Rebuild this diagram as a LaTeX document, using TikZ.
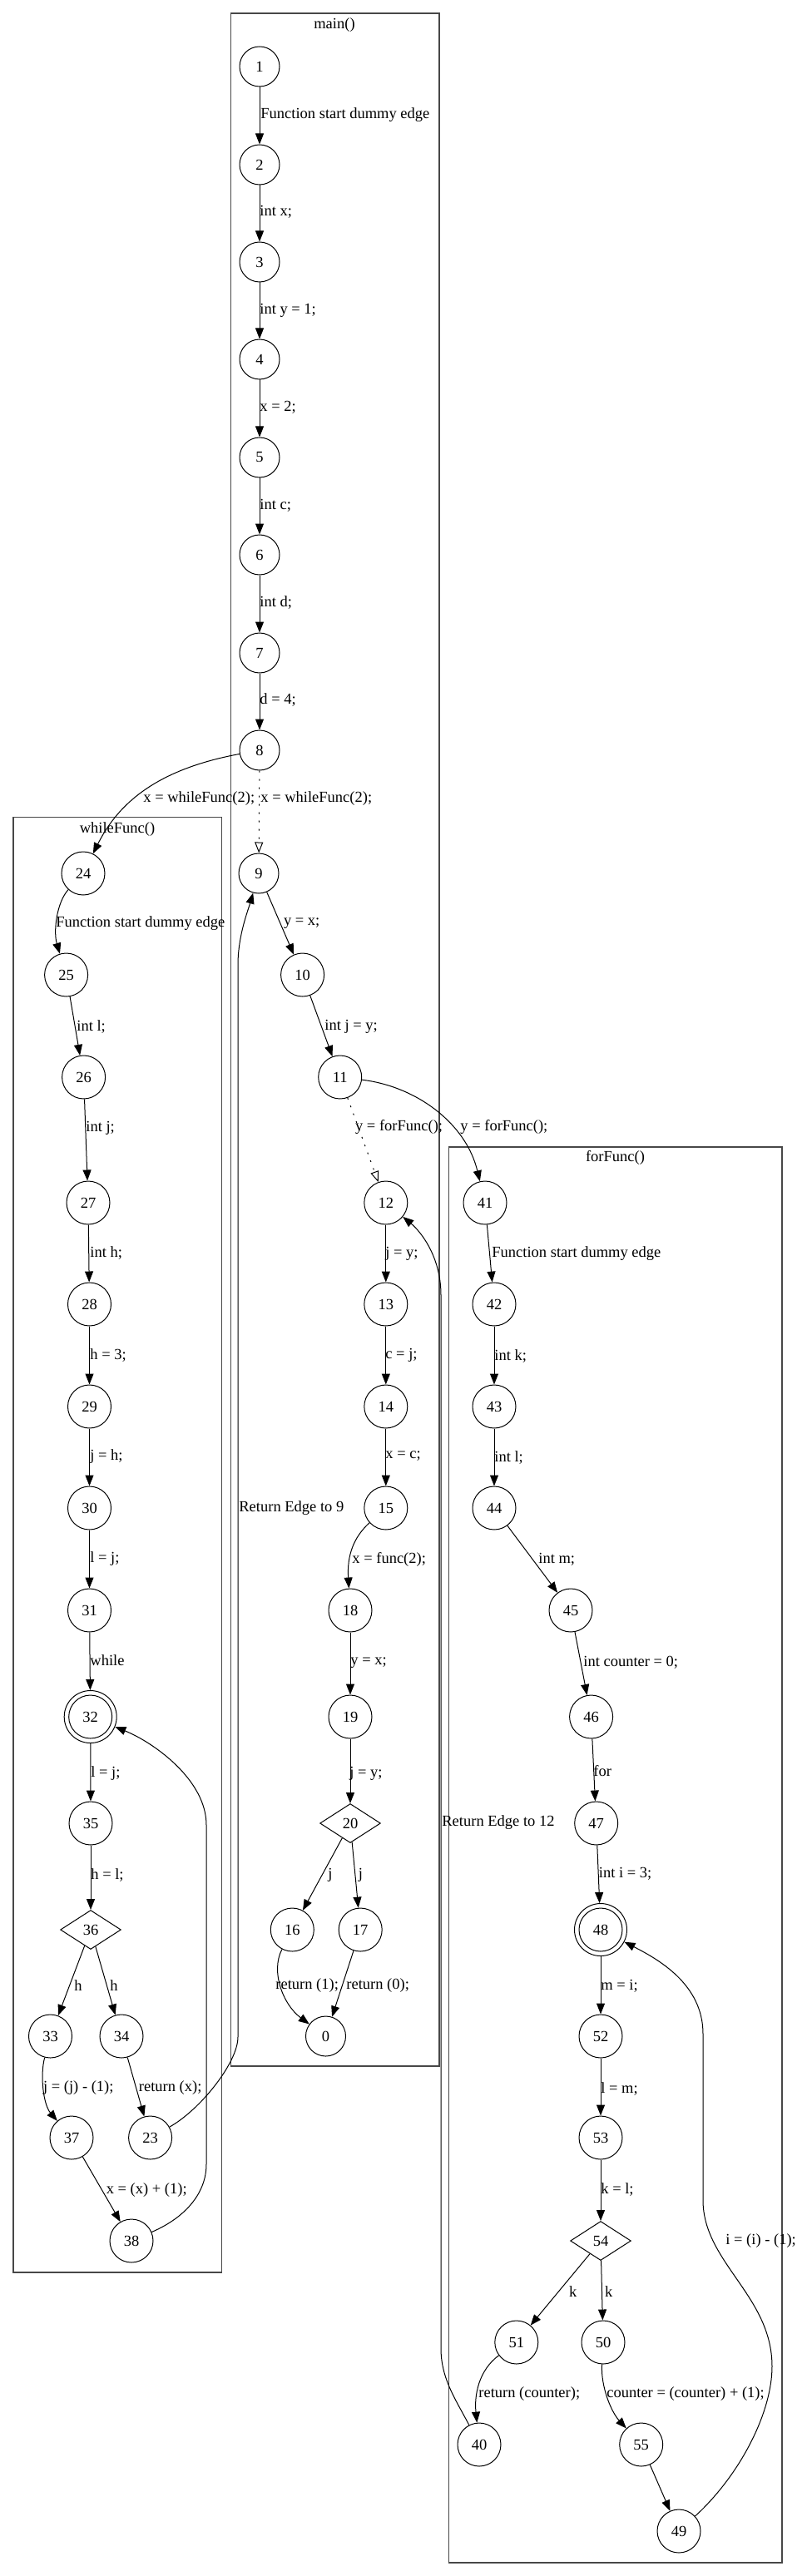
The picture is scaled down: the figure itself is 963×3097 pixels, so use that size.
\documentclass[tikz,border=0pt]{standalone}
\usepackage{fontspec}
\setmainfont{Liberation Serif}
\usetikzlibrary{arrows.meta,shapes.geometric}
\begin{document}
\begin{tikzpicture}[x=0.5pt,y=-0.5pt,
  every node/.style={font=\fontsize{9.25}{11}\selectfont},
  v/.style={circle, draw, line width=0.5pt, minimum size=24pt, inner sep=0pt},
  vv/.style={v, minimum size=26pt},
  dbl/.style={circle, draw, line width=0.5pt, minimum size=31.5pt, inner sep=0pt,
    path picture={\draw[line width=0.5pt] (path picture bounding box.center) circle (13pt);}},
  dia/.style={diamond, draw, line width=0.5pt, minimum width=36.4pt, minimum height=23.5pt, inner sep=0pt},
  e/.style={line width=0.5pt, -{Triangle[length=6.5pt,width=5pt]}},
  callarrow/.style={line width=0.5pt, dash pattern=on 1pt off 4pt, -{Triangle[open,length=6.5pt,width=5pt]}},
  lbl/.style={anchor=west, inner sep=0pt},
  cluster/.style={draw=black!72, line width=0.7pt},
  ctitle/.style={inner sep=0pt}
]
\useasboundingbox (0,0) rectangle (963,3097);
% clusters
\draw[cluster] (277.5,16) rectangle (528,2484);
\node[ctitle] (tmain) at (402,30) {main()};
\draw[cluster] (16,982.5) rectangle (266.7,2732);
\node[ctitle] (twhile) at (141,997) {whileFunc()};
\draw[cluster] (539.5,1379) rectangle (940,3081);
\node[ctitle] (tfor) at (739.5,1392) {forFunc()};

% main nodes
\node[v] (n1) at (312,80) {1};
\node[v] (n2) at (312,198) {2};
\node[v] (n3) at (312,315) {3};
\node[v] (n4) at (312,432) {4};
\node[v] (n5) at (312,550) {5};
\node[v] (n6) at (312,667) {6};
\node[v] (n7) at (312,785) {7};
\node[v] (n8) at (312,902) {8};
\node[v] (n9) at (311,1050) {9};
\node[vv] (n10) at (363.6,1172) {10};
\node[vv] (n11) at (408.7,1295) {11};
\node[vv] (n12) at (463.8,1446) {12};
\node[vv] (n13) at (463.8,1568) {13};
\node[vv] (n14) at (463.8,1691) {14};
\node[vv] (n15) at (463.8,1813) {15};
\node[vv] (n18) at (421,1936) {18};
\node[vv] (n19) at (421,2064) {19};
\node[dia] (n20) at (421,2192) {20};
\node[vv] (n16) at (351.3,2320) {16};
\node[vv] (n17) at (433.2,2320) {17};
\node[v] (n0) at (391.5,2448) {0};

% whileFunc nodes
\node[vv] (n24) at (100,1050) {24};
\node[vv] (n25) at (79.6,1172) {25};
\node[vv] (n26) at (100.6,1295) {26};
\node[vv] (n27) at (106,1446) {27};
\node[vv] (n28) at (107.5,1568) {28};
\node[vv] (n29) at (107.5,1691) {29};
\node[vv] (n30) at (107.5,1813) {30};
\node[vv] (n31) at (107.5,1936) {31};
\node[dbl] (n32) at (108.7,2064) {32};
\node[vv] (n35) at (109,2192) {35};
\node[dia] (n36) at (109,2320) {36};
\node[vv] (n33) at (60.5,2448) {33};
\node[vv] (n34) at (146,2448) {34};
\node[vv] (n37) at (86,2570) {37};
\node[vv] (n23) at (180.6,2570) {23};
\node[vv] (n38) at (158,2694) {38};

% forFunc nodes
\node[vv] (n41) at (583,1446) {41};
\node[vv] (n42) at (594,1568) {42};
\node[vv] (n43) at (594,1691) {43};
\node[vv] (n44) at (594,1813) {44};
\node[vv] (n45) at (686,1936) {45};
\node[vv] (n46) at (710.6,2064) {46};
\node[vv] (n47) at (716.7,2192) {47};
\node[dbl] (n48) at (722,2320) {48};
\node[vv] (n52) at (722,2448) {52};
\node[vv] (n53) at (722,2570) {53};
\node[dia] (n54) at (722,2694) {54};
\node[vv] (n51) at (620.8,2816) {51};
\node[vv] (n50) at (725,2816) {50};
\node[vv] (n40) at (576,2939) {40};
\node[vv] (n55) at (770.7,2939) {55};
\node[vv] (n49) at (816,3043) {49};

% main edges
\draw[e] (n1) -- (n2);
\draw[e] (n2) -- (n3);
\draw[e] (n3) -- (n4);
\draw[e] (n4) -- (n5);
\draw[e] (n5) -- (n6);
\draw[e] (n6) -- (n7);
\draw[e] (n7) -- (n8);
\draw[callarrow] (n8) -- (n9);
\draw[e] (n8) .. controls (188,925) and (142,966) .. (n24);
\draw[e] (n9) -- (n10);
\draw[e] (n10) -- (n11);
\draw[callarrow] (n11) -- (n12);
\draw[e] (n11) .. controls (500,1306) and (560,1350) .. (n41);
\draw[e] (n12) -- (n13);
\draw[e] (n13) -- (n14);
\draw[e] (n14) -- (n15);
\draw[e] (n15) .. controls (425,1848) and (417,1870) .. (n18);
\draw[e] (n18) -- (n19);
\draw[e] (n19) -- (n20);
\draw[e] (n20) -- (n16);
\draw[e] (n20) -- (n17);
\draw[e] (n16) .. controls (325,2370) and (340,2410) .. (n0);
\draw[e] (n17) -- (n0);

% whileFunc edges
\draw[e] (n24) .. controls (68,1085) and (64,1120) .. (n25);
\draw[e] (n25) -- (n26);
\draw[e] (n26) -- (n27);
\draw[e] (n27) -- (n28);
\draw[e] (n28) -- (n29);
\draw[e] (n29) -- (n30);
\draw[e] (n30) -- (n31);
\draw[e] (n31) -- (n32);
\draw[e] (n32) -- (n35);
\draw[e] (n35) -- (n36);
\draw[e] (n36) -- (n33);
\draw[e] (n36) -- (n34);
\draw[e] (n33) .. controls (48,2495) and (52,2530) .. (n37);
\draw[e] (n34) -- (n23);
\draw[e] (n37) -- (n38);
\draw[e] (n38) .. controls (225,2665) and (248,2635) .. (248,2602) -- (248,2194) .. controls (248,2140) and (185,2095) .. (n32);
\draw[e] (n23) .. controls (240,2537) and (286,2480) .. (286,2449) -- (286,1160) .. controls (286,1125) and (298,1095) .. (n9);

% forFunc edges
\draw[e] (n41) -- (n42);
\draw[e] (n42) -- (n43);
\draw[e] (n43) -- (n44);
\draw[e] (n44) -- (n45);
\draw[e] (n45) -- (n46);
\draw[e] (n46) -- (n47);
\draw[e] (n47) -- (n48);
\draw[e] (n48) -- (n52);
\draw[e] (n52) -- (n53);
\draw[e] (n53) -- (n54);
\draw[e] (n54) -- (n51);
\draw[e] (n54) -- (n50);
\draw[e] (n51) .. controls (575,2850) and (570,2880) .. (n40);
\draw[e] (n50) .. controls (722,2870) and (735,2900) .. (n55);
\draw[e] (n55) -- (n49);
\draw[e] (n49) .. controls (890,2975) and (928,2900) .. (928,2845) .. controls (928,2760) and (845,2720) .. (845,2645) -- (845,2445) .. controls (845,2385) and (790,2355) .. (n48);
\draw[e] (n40) .. controls (548,2885) and (530,2860) .. (530,2823) -- (530,1557) .. controls (530,1510) and (505,1480) .. (n12);

% labels main
\node[lbl] (l1) at (313,138) {Function start dummy edge};
\node[lbl] (l2) at (312,255) {int x;};
\node[lbl] (l3) at (312,373) {int y = 1;};
\node[lbl] (l4) at (312,490) {x = 2;};
\node[lbl] (l5) at (312,608) {int c;};
\node[lbl] (l6) at (312,725) {int d;};
\node[lbl] (l7) at (312,842) {d = 4;};
\node[lbl] (l8a) at (172,960) {x = whileFunc(2);};
\node[lbl] (l8b) at (313,960) {x = whileFunc(2);};
\node[lbl] (l9) at (340.6,1110) {y = x;};
\node[lbl] (l10) at (390,1234) {int j = y;};
\node[lbl] (l11a) at (426.7,1355) {y = forFunc();};
\node[lbl] (l11b) at (553,1355) {y = forFunc();};
\node[lbl] (l12) at (463,1507) {j = y;};
\node[lbl] (l13) at (463,1629) {c = j;};
\node[lbl] (l14) at (463,1751) {x = c;};
\node[lbl] (l15) at (423,1875) {x = func(2);};
\node[lbl] (l18) at (421,1999) {y = x;};
\node[lbl] (l19) at (420,2132) {j = y;};
\node[lbl] (l20a) at (394,2254) {j};
\node[lbl] (l20b) at (430.5,2254) {j};
\node[lbl] (l16) at (331,2387) {return (1);};
\node[lbl] (l17) at (416,2387) {return (0);};
\node[lbl] (lr9) at (287,1813) {Return Edge to 9};
\node[lbl] (lr12) at (531,2191) {Return Edge to 12};

% labels whileFunc
\node[lbl] (l24) at (67,1110) {Function start dummy edge};
\node[lbl] (l25) at (92,1234) {int l;};
\node[lbl] (l26) at (103,1356) {int j;};
\node[lbl] (l27) at (108,1506) {int h;};
\node[lbl] (l28) at (108,1629) {h = 3;};
\node[lbl] (l29) at (108,1751) {j = h;};
\node[lbl] (l30) at (108,1874) {l = j;};
\node[lbl] (l31) at (108,1996) {while};
\node[lbl] (l32) at (109,2132) {l = j;};
\node[lbl] (l35) at (109,2254) {h = l;};
\node[lbl] (l36a) at (89,2387) {h};
\node[lbl] (l36b) at (132,2387) {h};
\node[lbl] (l33) at (51.7,2510) {j = (j) - (1);};
\node[lbl] (l34) at (166.5,2510) {return (x);};
\node[lbl] (l37) at (127.4,2633) {x = (x) + (1);};

% labels forFunc
\node[lbl] (l41) at (591,1507) {Function start dummy edge};
\node[lbl] (l42) at (594,1630) {int k;};
\node[lbl] (l43) at (594,1752) {int l;};
\node[lbl] (l44) at (647,1875) {int m;};
\node[lbl] (l45) at (701,1999) {int counter = 0;};
\node[lbl] (l46) at (713,2129) {for};
\node[lbl] (l47) at (719.5,2253) {int i = 3;};
\node[lbl] (l48) at (722,2388) {m = i;};
\node[lbl] (l52) at (722,2511) {l = m;};
\node[lbl] (l53) at (722,2632) {k = l;};
\node[lbl] (l54a) at (683.6,2755) {k};
\node[lbl] (l54b) at (726.7,2755) {k};
\node[lbl] (l51) at (575,2878) {return (counter);};
\node[lbl] (l50) at (729,2878) {counter = (counter) + (1);};
\node[lbl] (l49) at (872,2694) {i = (i) - (1);};
\end{tikzpicture}
\end{document}
